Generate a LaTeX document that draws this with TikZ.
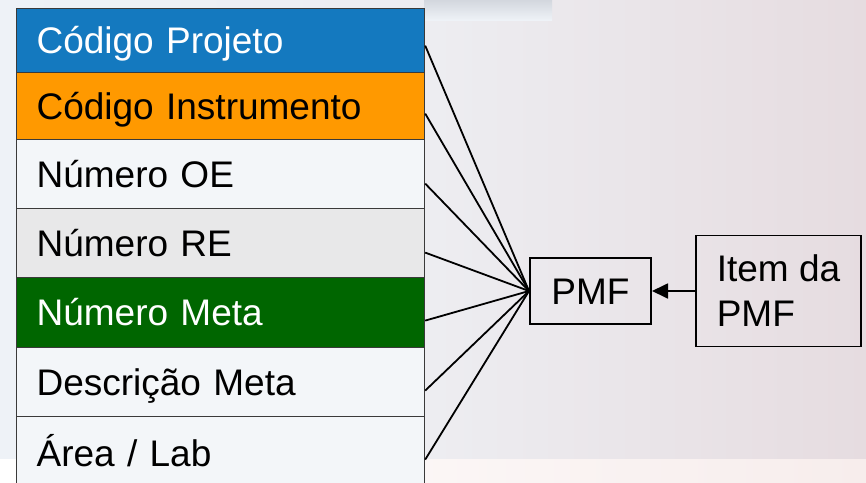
\documentclass[tikz,border=0pt]{standalone}
\usepackage{fontspec}
\setmainfont{Liberation Sans}
\usetikzlibrary{arrows.meta}
\definecolor{cblue}{HTML}{1479BF}
\definecolor{corange}{HTML}{FF9900}
\definecolor{cgreen}{HTML}{006600}
\definecolor{cgray}{HTML}{E8E8E9}
\definecolor{cpale}{HTML}{F3F6F9}
\definecolor{rowline}{HTML}{3A3A3A}
\definecolor{bgl}{HTML}{EEF2F7}
\definecolor{bgm}{HTML}{EDEDF1}
\definecolor{bgr}{HTML}{E6DCE0}
\definecolor{bgb}{HTML}{F7EDEC}
\definecolor{topgray}{HTML}{D3D7DE}
\begin{document}
\begin{tikzpicture}[x=1pt,y=-1pt,
  rowbox/.style={draw=rowline, line width=1.2pt, anchor=north west,
    inner xsep=20pt, inner ysep=0pt, text width=368pt, align=left,
    text height=26.5pt, text depth=0pt, font=\fontsize{37}{44}\selectfont},
  boxnode/.style={draw=black, inner ysep=0pt, font=\fontsize{37}{45}\selectfont},
  conn/.style={draw=black, line width=1.8pt}]
\useasboundingbox (0,0) rectangle (866,482);
\clip (0,0) rectangle (866,482);
% background
\shade[left color=bgl, right color=bgr, middle color=bgm] (0,0) rectangle (866,459);
\shade[top color=topgray, bottom color=bgl] (424,0) rectangle (552,20);
\shade[left color=white, right color=bgb] (0,459) rectangle (866,482);
% table rows
\node[rowbox, fill=cblue, text=white, minimum height=64pt] (r1) at (16,8) {Código Projeto};
\node[rowbox, fill=corange, minimum height=67pt] (r2) at (16,72) {Código Instrumento};
\node[rowbox, fill=cpale, minimum height=69pt] (r3) at (16,139) {Número OE};
\node[rowbox, fill=cgray, minimum height=69pt] (r4) at (16,208) {Número RE};
\node[rowbox, fill=cgreen, text=white, minimum height=70pt] (r5) at (16,277) {Número Meta};
\node[rowbox, fill=cpale, minimum height=69pt] (r6) at (16,347) {Descrição Meta};
\node[rowbox, fill=cpale, minimum height=74pt] (r7) at (16,416) {Área / Lab};
% PMF boxes
\node[boxnode, line width=2pt, minimum width=121pt, minimum height=66pt,
  text height=26.5pt, text depth=0pt] (pmf) at (590.5,291) {PMF};
\node[boxnode, line width=1.5pt, minimum width=165pt, minimum height=111pt,
  inner xsep=21pt, align=left] (item) at (778.5,291) {Item da\\PMF};
% connector start points
\coordinate (s1) at ([yshift=-5pt]r1.east);
\coordinate (s2) at ([yshift=-7.5pt]r2.east);
\coordinate (s3) at ([yshift=-9.5pt]r3.east);
\coordinate (s4) at ([yshift=-9.5pt]r4.east);
\coordinate (s5) at ([yshift=-8pt]r5.east);
\coordinate (s6) at ([yshift=-8.5pt]r6.east);
\coordinate (s7) at ([yshift=-6pt]r7.east);
\foreach \s in {s1,s2,s3,s4,s5,s6,s7}{\draw[conn] (\s) -- (pmf.west);}
\draw[line width=1.8pt, -{Triangle[length=16pt,width=15pt]}] (item.west) -- (pmf.east);
\end{tikzpicture}
\end{document}
